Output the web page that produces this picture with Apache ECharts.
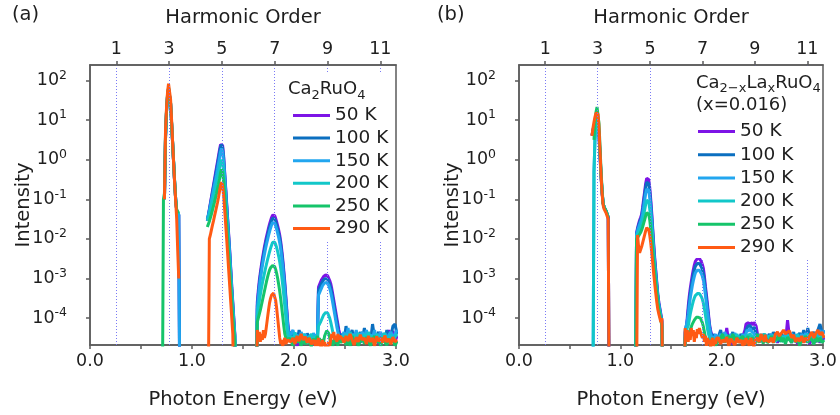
<!DOCTYPE html>
<html>
<head>
<meta charset="utf-8">
<script src="https://cdn.jsdelivr.net/npm/echarts@6/dist/echarts.min.js"></script>
<style>
  html, body { margin: 0; padding: 0; background: #fff; }
  #chart { width: 840px; height: 415px; }
</style>
</head>
<body>
<div id="chart"></div>
<script>
// Photon energy sampling grid (eV), shared by every spectrum
const photonEnergy = [
  0.71,0.72,0.73,0.74,0.75,0.76,0.77,0.78,0.79,0.80,0.81,0.82,0.83,0.84,0.85,0.86,0.87,0.88,0.89,0.90,
  1.14,1.15,1.16,1.17,1.18,1.19,1.20,1.21,1.22,1.23,1.24,1.25,1.26,1.27,1.28,1.29,1.30,1.31,1.32,1.33,1.34,1.35,1.36,1.37,1.38,1.39,1.40,1.41,1.42,1.43,1.44,
  1.63,1.64,1.65,1.66,1.67,1.68,1.69,1.70,1.71,1.72,1.73,1.74,1.75,1.76,1.77,1.78,1.79,1.80,1.81,1.82,1.83,1.84,1.85,1.86,1.87,1.88,1.89,1.90,1.91,1.92,1.93,1.94,1.95,
  1.97,1.99,2.01,2.03,2.05,2.07,2.09,2.11,2.13,2.15,2.17,2.19,2.21,
  2.22,2.23,2.24,2.25,2.26,2.27,2.28,2.29,2.30,2.31,2.32,2.33,2.34,2.35,2.36,2.37,2.38,2.39,2.40,2.41,2.42,2.43,2.44,2.45,
  2.47,2.49,2.51,2.53,2.55,2.57,2.59,2.61,2.63,2.65,2.67,2.69,2.71,2.73,2.75,2.77,2.79,2.81,2.83,2.85,2.87,2.89,2.91,2.93,2.95,2.97,2.99,3.01
];

// Fundamental (pump) photon energy in eV: harmonic n sits at n * fundamentalEV
const fundamentalEV = 0.2587;
const harmonicOrders = [1, 3, 5, 7, 9, 11];
const intensityDecades = [1e-4, 1e-3, 1e-2, 1e-1, 1, 10, 100];
const temperatures = ['50 K', '100 K', '150 K', '200 K', '250 K', '290 K'];

// log10(intensity); null = no data, -6 = below the plotted range
// (a) Ca2RuO4
const pure50K = [
  null,null,-1.0,0.5,1.2,1.6,1.78,1.75,1.4,0.9,0.4,-0.1,-0.6,-1.0,-1.3,-1.35,-1.4,-6,null,null,
  null,-1.55,-1.4,-1.25,-1.1,-0.95,-0.8,-0.65,-0.5,-0.35,-0.2,-0.05,0.1,0.25,0.38,0.43,0.36,0.1,-0.3,-0.7,-1.1,-1.5,-1.9,-2.3,-2.75,-3.2,-3.6,-4.0,-4.4,-6,null,
  -6,-3.6,-3.3,-3.05,-2.85,-2.67,-2.5,-2.35,-2.2,-2.07,-1.95,-1.84,-1.73,-1.63,-1.54,-1.46,-1.4,-1.38,-1.41,-1.48,-1.57,-1.67,-1.78,-1.9,-2.07,-2.28,-2.52,-2.8,-3.1,-3.45,-3.8,-4.15,-4.35,
  -4.5,-4.62,-4.45,-4.7,-4.55,-4.48,-4.66,-4.52,-4.6,-4.44,-4.58,-4.68,-4.5,
  -4.5,-4.4,-3.22,-3.15,-3.09,-3.03,-2.98,-2.95,-2.92,-2.91,-2.91,-2.93,-2.98,-3.05,-3.13,-3.25,-3.4,-3.55,-3.7,-3.85,-4.0,-4.15,-4.3,-4.4,
  -4.55,-4.45,-4.6,-4.4,-4.52,-4.65,-4.45,-4.58,-4.4,-4.62,-4.5,-4.35,-4.55,-4.45,-4.6,-4.42,-4.56,-4.5,-4.65,-4.45,-4.58,-4.4,-4.55,-4.3,-4.5,-4.32,-4.6,-4.45
];
const pure100K = [
  null,null,-1.0,0.5,1.2,1.6,1.8,1.76,1.42,0.92,0.42,-0.08,-0.58,-1.0,-1.3,-1.35,-1.4,-6,null,null,
  null,-1.5,-1.4,-1.27,-1.13,-0.99,-0.85,-0.7,-0.56,-0.42,-0.27,-0.12,0.03,0.18,0.32,0.38,0.3,0.05,-0.35,-0.75,-1.15,-1.55,-1.95,-2.35,-2.8,-3.25,-3.65,-4.05,-4.45,-6,null,
  -6,-3.7,-3.4,-3.14,-2.93,-2.75,-2.58,-2.43,-2.28,-2.15,-2.03,-1.92,-1.81,-1.71,-1.62,-1.54,-1.48,-1.46,-1.49,-1.56,-1.65,-1.75,-1.86,-1.98,-2.15,-2.36,-2.6,-2.88,-3.18,-3.52,-3.87,-4.2,-4.4,
  -4.35,-4.55,-4.4,-4.6,-4.3,-4.5,-4.45,-4.62,-4.38,-4.55,-4.42,-4.6,-4.48,
  -4.45,-4.5,-3.3,-3.24,-3.18,-3.12,-3.07,-3.03,-3.01,-3.0,-3.0,-3.02,-3.07,-3.14,-3.23,-3.35,-3.5,-3.65,-3.8,-3.95,-4.1,-4.25,-4.4,-4.5,
  -4.4,-4.6,-4.2,-4.55,-4.45,-4.3,-4.6,-4.4,-4.5,-4.35,-4.55,-4.25,-4.5,-4.4,-4.6,-4.15,-4.5,-4.45,-4.35,-4.55,-4.4,-4.6,-4.3,-4.5,-4.45,-4.2,-4.15,-4.4
];
const pure150K = [
  null,null,-1.0,0.55,1.22,1.62,1.8,1.76,1.42,0.92,0.42,-0.08,-0.58,-1.0,-1.28,-1.33,-1.38,-6,null,null,
  null,-1.5,-1.42,-1.3,-1.17,-1.04,-0.91,-0.78,-0.65,-0.52,-0.39,-0.25,-0.1,0.05,0.2,0.28,0.2,-0.05,-0.42,-0.82,-1.22,-1.62,-2.02,-2.42,-2.85,-3.3,-3.7,-4.1,-4.45,-6,null,
  -6,-3.8,-3.5,-3.24,-3.03,-2.85,-2.68,-2.53,-2.39,-2.26,-2.14,-2.03,-1.92,-1.82,-1.73,-1.65,-1.59,-1.57,-1.6,-1.67,-1.76,-1.86,-1.97,-2.1,-2.27,-2.48,-2.72,-3.0,-3.3,-3.62,-3.95,-4.25,-4.45,
  -4.4,-4.3,-4.52,-4.42,-4.6,-4.35,-4.5,-4.4,-4.57,-4.45,-4.6,-4.38,-4.5,
  -4.55,-4.4,-3.42,-3.36,-3.3,-3.24,-3.18,-3.14,-3.11,-3.1,-3.1,-3.12,-3.17,-3.25,-3.35,-3.47,-3.62,-3.77,-3.92,-4.07,-4.22,-4.35,-4.45,-4.55,
  -4.5,-4.35,-4.55,-4.25,-4.6,-4.4,-4.5,-4.3,-4.58,-4.45,-4.35,-4.5,-4.3,-4.55,-4.42,-4.5,-4.3,-4.6,-4.45,-4.35,-4.52,-4.38,-4.6,-4.42,-4.35,-4.5,-4.4,-4.3
];
const pure200K = [
  null,null,-1.0,0.55,1.22,1.62,1.8,1.77,1.43,0.93,0.43,-0.07,-0.57,-1.0,-1.28,-1.33,-1.38,null,null,null,
  null,-1.55,-1.48,-1.38,-1.27,-1.16,-1.05,-0.94,-0.83,-0.72,-0.6,-0.47,-0.34,-0.2,-0.07,0.0,-0.08,-0.32,-0.67,-1.05,-1.45,-1.85,-2.25,-2.65,-3.05,-3.45,-3.85,-4.2,-4.5,-6,null,
  -6,-3.95,-3.75,-3.57,-3.41,-3.26,-3.12,-2.99,-2.87,-2.75,-2.64,-2.53,-2.43,-2.33,-2.24,-2.16,-2.09,-2.05,-2.08,-2.14,-2.22,-2.32,-2.44,-2.58,-2.75,-2.95,-3.18,-3.43,-3.7,-3.98,-4.25,-4.45,-4.55,
  -4.45,-4.6,-4.36,-4.55,-4.45,-4.62,-4.4,-4.5,-4.65,-4.48,-4.4,-4.56,-4.45,
  -4.5,-4.6,-4.2,-4.15,-4.1,-4.04,-3.98,-3.92,-3.88,-3.86,-3.85,-3.87,-3.92,-4.0,-4.1,-4.22,-4.35,-4.45,-4.5,-4.6,-4.45,-4.55,-4.6,-4.5,
  -4.45,-4.55,-4.4,-4.6,-4.35,-4.5,-4.42,-4.6,-4.38,-4.5,-4.6,-4.4,-4.55,-4.35,-4.5,-4.45,-4.6,-4.4,-4.5,-4.62,-4.45,-4.38,-4.55,-4.5,-4.42,-4.6,-4.48,-4.4
];
const pure250K = [
  -6,-1.0,-0.85,0.6,1.25,1.65,1.82,1.78,1.44,0.94,0.44,-0.06,-0.56,-1.0,-1.27,-1.3,-1.35,null,null,null,
  null,-1.7,-1.65,-1.56,-1.47,-1.38,-1.28,-1.18,-1.08,-0.97,-0.86,-0.74,-0.62,-0.49,-0.33,-0.25,-0.33,-0.55,-0.9,-1.28,-1.67,-2.05,-2.45,-2.85,-3.25,-3.65,-4.0,-4.35,-4.6,-6,null,
  -6,-4.1,-4.0,-3.9,-3.8,-3.68,-3.56,-3.44,-3.32,-3.2,-3.08,-2.97,-2.87,-2.79,-2.73,-2.69,-2.67,-2.67,-2.7,-2.77,-2.87,-3.0,-3.15,-3.32,-3.52,-3.74,-3.97,-4.2,-4.4,-4.5,-4.45,-4.6,-4.5,
  -4.55,-4.7,-4.5,-4.62,-4.48,-4.7,-4.55,-4.66,-4.5,-4.6,-4.72,-4.52,-4.6,
  -4.6,-4.45,-4.6,-4.5,-4.65,-4.55,-4.5,-4.6,-4.45,-4.4,-4.32,-4.3,-4.38,-4.5,-4.65,-4.55,-4.7,-4.6,-4.5,-4.65,-4.55,-4.7,-4.5,-4.6,
  -4.6,-4.5,-4.68,-4.55,-4.7,-4.45,-4.6,-4.52,-4.7,-4.58,-4.5,-4.65,-4.48,-4.6,-4.7,-4.55,-4.45,-4.62,-4.55,-4.7,-4.5,-4.6,-4.68,-4.52,-4.62,-4.5,-4.7,-4.58
];
const pure290K = [
  null,null,-1.0,0.7,1.3,1.7,1.92,1.9,1.52,1.0,0.45,-0.1,-0.6,-1.05,-1.5,-2.3,-3.0,null,null,null,
  null,null,-6,-2.0,-1.9,-1.78,-1.66,-1.55,-1.43,-1.32,-1.2,-1.08,-0.95,-0.8,-0.65,-0.57,-0.66,-0.9,-1.25,-1.62,-2.0,-2.4,-2.8,-3.2,-3.6,-4.0,-4.4,-6,null,null,null,
  -6,-4.3,-4.5,-4.35,-4.6,-4.4,-4.55,-4.3,-4.5,-4.4,-4.2,-4.0,-3.8,-3.62,-3.5,-3.42,-3.38,-3.37,-3.42,-3.55,-3.75,-4.0,-4.25,-4.5,-4.65,-4.55,-4.7,-4.6,-4.5,-4.65,-4.7,-4.55,-4.6,
  -4.6,-4.5,-4.65,-4.45,-4.58,-4.4,-4.55,-4.47,-4.62,-4.5,-4.66,-4.55,-4.7,
  -4.55,-4.7,-4.5,-4.65,-4.6,-4.75,-4.55,-4.7,-4.6,-4.75,-4.65,-4.8,-4.6,-4.7,-4.55,-4.4,-4.5,-4.35,-4.55,-4.45,-4.6,-4.4,-4.55,-4.45,
  -4.5,-4.62,-4.45,-4.58,-4.4,-4.55,-4.68,-4.48,-4.6,-4.42,-4.55,-4.5,-4.65,-4.45,-4.6,-4.5,-4.7,-4.46,-4.58,-4.5,-4.62,-4.44,-4.6,-4.52,-4.66,-4.48,-4.6,-4.55
];

// (b) Ca(2-x)La(x)RuO4, x = 0.016
const doped50K = [
  null,0.62,0.75,0.85,0.9,0.92,0.93,0.9,0.55,0.05,-0.45,-0.85,-1.1,-1.2,-1.25,-1.3,-1.35,-1.45,-6,null,
  null,-6,-1.85,-1.72,-1.62,-1.53,-1.46,-1.38,-1.2,-1.0,-0.8,-0.6,-0.47,-0.42,-0.5,-0.7,-1.0,-1.35,-1.75,-2.15,-2.5,-2.8,-3.1,-3.4,-3.6,-3.75,-3.9,-4.05,-6,null,null,
  -6,-4.35,-4.25,-4.0,-3.7,-3.45,-3.25,-3.08,-2.92,-2.78,-2.66,-2.57,-2.52,-2.5,-2.49,-2.49,-2.52,-2.58,-2.65,-2.75,-2.95,-3.2,-3.42,-3.65,-3.9,-4.15,-4.3,-4.4,-4.45,-4.55,-4.4,-4.6,-4.5,
  -4.55,-4.6,-4.48,-4.62,-4.25,-4.6,-4.5,-4.66,-4.45,-4.58,-4.52,-4.62,-4.45,
  -4.5,-4.3,-4.15,-4.1,-4.12,-4.08,-4.15,-4.1,-4.12,-4.18,-4.1,-4.15,-4.2,-4.35,-4.5,-4.55,-4.45,-4.6,-4.5,-4.62,-4.45,-4.55,-4.6,-4.48,
  -4.55,-4.45,-4.6,-4.5,-4.62,-4.45,-4.58,-4.5,-4.6,-4.05,-4.5,-4.62,-4.48,-4.55,-4.65,-4.5,-4.58,-4.45,-4.6,-4.52,-4.65,-4.48,-4.55,-4.6,-4.5,-4.62,-4.45,-4.55
];
const doped100K = [
  null,0.6,0.74,0.86,0.92,0.95,0.96,0.92,0.58,0.08,-0.42,-0.82,-1.1,-1.2,-1.25,-1.3,-1.35,-1.45,-6,null,
  null,-6,-1.88,-1.76,-1.66,-1.58,-1.51,-1.44,-1.27,-1.08,-0.88,-0.69,-0.57,-0.52,-0.6,-0.8,-1.1,-1.45,-1.83,-2.22,-2.56,-2.86,-3.15,-3.43,-3.63,-3.78,-3.93,-4.08,-6,null,null,
  -6,-4.3,-4.3,-4.1,-3.82,-3.57,-3.37,-3.2,-3.04,-2.9,-2.78,-2.69,-2.64,-2.62,-2.62,-2.62,-2.65,-2.71,-2.78,-2.88,-3.07,-3.3,-3.52,-3.74,-3.97,-4.2,-4.35,-4.3,-4.5,-4.4,-4.55,-4.45,-4.6,
  -4.45,-4.3,-4.55,-4.4,-4.6,-4.42,-4.5,-4.35,-4.55,-4.45,-4.6,-4.4,-4.5,
  -4.55,-4.45,-4.3,-4.25,-4.2,-4.22,-4.18,-4.25,-4.2,-4.28,-4.22,-4.3,-4.4,-4.5,-4.42,-4.6,-4.45,-4.55,-4.4,-4.6,-4.5,-4.42,-4.55,-4.5,
  -4.4,-4.55,-4.35,-4.5,-4.42,-4.6,-4.38,-4.5,-4.45,-4.55,-4.4,-4.5,-4.35,-4.6,-4.45,-4.38,-4.5,-4.3,-4.55,-4.25,-4.5,-4.42,-4.35,-4.5,-4.3,-4.15,-4.35,-4.4
];
const doped150K = [
  null,null,-6,-0.3,0.5,0.88,1.0,0.95,0.62,0.12,-0.4,-0.8,-1.1,-1.2,-1.25,-1.3,-1.35,-1.45,null,null,
  null,-6,-1.9,-1.8,-1.71,-1.64,-1.57,-1.5,-1.36,-1.2,-1.03,-0.86,-0.74,-0.69,-0.77,-0.96,-1.25,-1.58,-1.95,-2.32,-2.65,-2.94,-3.22,-3.48,-3.67,-3.82,-3.97,-4.12,-6,null,null,
  -6,-4.4,-4.2,-4.15,-3.92,-3.7,-3.5,-3.34,-3.19,-3.06,-2.95,-2.86,-2.81,-2.79,-2.79,-2.79,-2.82,-2.88,-2.95,-3.05,-3.22,-3.43,-3.64,-3.85,-4.05,-4.25,-4.4,-4.35,-4.55,-4.45,-4.6,-4.4,-4.55,
  -4.5,-4.4,-4.6,-4.35,-4.5,-4.55,-4.4,-4.6,-4.38,-4.5,-4.45,-4.58,-4.4,
  -4.5,-4.6,-4.4,-4.3,-4.28,-4.32,-4.26,-4.3,-4.35,-4.3,-4.38,-4.45,-4.5,-4.42,-4.58,-4.45,-4.55,-4.4,-4.6,-4.48,-4.55,-4.4,-4.6,-4.45,
  -4.5,-4.4,-4.55,-4.45,-4.38,-4.52,-4.45,-4.6,-4.4,-4.5,-4.45,-4.38,-4.55,-4.42,-4.5,-4.6,-4.4,-4.48,-4.38,-4.5,-4.42,-4.55,-4.45,-4.38,-4.5,-4.3,-4.45,-4.3
];
const doped200K = [
  null,null,-6,-0.3,0.55,0.95,1.1,1.05,0.7,0.15,-0.38,-0.8,-1.1,-1.2,-1.25,-1.3,-1.35,-1.45,null,null,
  null,-6,-1.95,-1.88,-1.82,-1.77,-1.71,-1.64,-1.53,-1.4,-1.27,-1.13,-1.02,-0.98,-1.06,-1.24,-1.5,-1.8,-2.13,-2.47,-2.78,-3.05,-3.3,-3.55,-3.72,-3.86,-4.0,-4.15,-6,null,null,
  -6,-4.45,-4.3,-4.35,-4.2,-4.05,-3.9,-3.78,-3.67,-3.57,-3.49,-3.43,-3.39,-3.38,-3.38,-3.38,-3.41,-3.46,-3.53,-3.63,-3.77,-3.93,-4.1,-4.27,-4.4,-4.5,-4.45,-4.6,-4.5,-4.65,-4.5,-4.55,-4.65,
  -4.55,-4.45,-4.6,-4.5,-4.42,-4.6,-4.48,-4.55,-4.62,-4.4,-4.52,-4.6,-4.5,
  -4.45,-4.55,-4.5,-4.42,-4.4,-4.45,-4.38,-4.48,-4.42,-4.5,-4.45,-4.55,-4.48,-4.6,-4.5,-4.4,-4.55,-4.6,-4.45,-4.52,-4.38,-4.6,-4.5,-4.55,
  -4.45,-4.55,-4.42,-4.6,-4.48,-4.4,-4.55,-4.45,-4.6,-4.42,-4.5,-4.58,-4.45,-4.52,-4.4,-4.55,-4.62,-4.45,-4.5,-4.4,-4.55,-4.48,-4.6,-4.42,-4.5,-4.55,-4.4,-4.5
];
const doped250K = [
  null,null,null,0.5,0.95,1.2,1.33,1.28,0.9,0.3,-0.3,-0.75,-1.1,-1.2,-1.25,-1.3,-1.35,-1.45,null,null,
  null,-6,-2.0,-1.97,-1.93,-1.89,-1.84,-1.78,-1.7,-1.61,-1.52,-1.42,-1.34,-1.3,-1.37,-1.52,-1.75,-2.02,-2.32,-2.62,-2.9,-3.15,-3.38,-3.6,-3.78,-3.92,-4.05,-4.2,-6,null,null,
  -6,-4.5,-4.4,-4.55,-4.45,-4.35,-4.3,-4.22,-4.15,-4.1,-4.05,-4.0,-3.98,-3.97,-3.98,-3.97,-4.0,-4.05,-4.12,-4.22,-4.35,-4.5,-4.6,-4.5,-4.65,-4.55,-4.7,-4.6,-4.5,-4.65,-4.55,-4.7,-4.6,
  -4.6,-4.5,-4.4,-4.62,-4.5,-4.45,-4.6,-4.4,-4.55,-4.48,-4.62,-4.5,-4.45,
  -4.6,-4.5,-4.65,-4.55,-4.45,-4.6,-4.5,-4.65,-4.48,-4.6,-4.52,-4.66,-4.5,-4.4,-4.55,-4.62,-4.45,-4.58,-4.5,-4.65,-4.42,-4.6,-4.5,-4.62,
  -4.58,-4.45,-4.62,-4.5,-4.55,-4.4,-4.6,-4.5,-4.65,-4.48,-4.55,-4.62,-4.45,-4.6,-4.52,-4.7,-4.5,-4.58,-4.45,-4.62,-4.5,-4.55,-4.66,-4.48,-4.6,-4.5,-4.62,-4.55
];
const doped290K = [
  null,0.6,0.8,0.95,1.08,1.18,1.21,1.15,0.8,0.2,-0.4,-0.85,-1.15,-1.25,-1.3,-1.35,-1.4,-1.5,-6,null,
  null,null,-6,-1.9,-2.2,-2.35,-2.3,-2.2,-2.1,-2.0,-1.9,-1.8,-1.72,-1.7,-1.76,-1.9,-2.1,-2.35,-2.62,-2.9,-3.15,-3.38,-3.6,-3.78,-3.9,-4.0,-4.1,-4.0,-6,null,null,
  -6,-4.25,-4.5,-4.3,-4.6,-4.35,-4.55,-4.25,-4.45,-4.3,-4.6,-4.35,-4.5,-4.28,-4.4,-4.25,-4.35,-4.3,-4.5,-4.4,-4.6,-4.45,-4.7,-4.5,-4.65,-4.55,-4.75,-4.6,-4.5,-4.7,-4.55,-4.65,-4.5,
  -4.5,-4.65,-4.55,-4.6,-4.48,-4.7,-4.52,-4.6,-4.68,-4.5,-4.62,-4.55,-4.7,
  -4.55,-4.68,-4.5,-4.62,-4.55,-4.7,-4.58,-4.5,-4.65,-4.6,-4.72,-4.55,-4.6,-4.5,-4.45,-4.6,-4.5,-4.4,-4.55,-4.48,-4.6,-4.42,-4.55,-4.5,
  -4.6,-4.5,-4.62,-4.4,-4.35,-4.45,-4.38,-4.3,-4.4,-4.35,-4.32,-4.5,-4.42,-4.6,-4.5,-4.58,-4.45,-4.62,-4.5,-4.55,-4.45,-4.35,-4.5,-4.38,-4.3,-4.42,-4.35,-4.5
];

const pureSpectra = [pure50K, pure100K, pure150K, pure200K, pure250K, pure290K];
const dopedSpectra = [doped50K, doped100K, doped150K, doped200K, doped250K, doped290K];
const lineColors = ['#7d14e6', '#0b6fc0', '#22a6ef', '#12c7c9', '#16c46a', '#ff5a14'];

[...pureSpectra, ...dopedSpectra].forEach((s, i) => {
  if (s.length !== photonEnergy.length) throw new Error('spectrum ' + i + ' has ' + s.length + ' points, expected ' + photonEnergy.length);
});

const FONT = 'DejaVu Sans';
const TEXT = '#1e1e1e';
const AXIS = '#5b5b5b';
const yMin = 2.1e-5, yMax = 245;

function toPoints(logValues) {
  return photonEnergy.map((e, i) => [e, logValues[i] == null ? null : Math.pow(10, logValues[i])]);
}

function decadeLabel(v) {
  const exp = Math.round(Math.log10(v));
  return '{b|10}{e|' + exp + '}';
}

const nameStyle = { fontSize: 19.5, fontFamily: FONT, color: TEXT };
const tickFont = { fontSize: 17.5, fontFamily: FONT, color: TEXT };

function panelAxes(g) {
  const xBottom = {
    gridIndex: g, type: 'value', position: 'bottom', min: 0, max: 3, interval: 0.5,
    axisLine: { show: true, onZero: false, lineStyle: { color: AXIS, width: 1.5 } },
    axisTick: { show: true, inside: false, length: 4, lineStyle: { color: AXIS, width: 1.5 } },
    axisLabel: Object.assign({ customValues: [0, 1, 2, 3], formatter: v => v.toFixed(1), margin: 7 }, tickFont),
    splitLine: { show: false },
    name: 'Photon Energy (eV)', nameLocation: 'middle', nameGap: 45, nameTextStyle: nameStyle
  };
  const xTop = {
    gridIndex: g, type: 'value', position: 'top', min: 0, max: 3 / fundamentalEV, z: 3,
    axisLine: { show: true, onZero: false, lineStyle: { color: AXIS, width: 1.5 } },
    axisTick: { show: true, inside: false, length: 4, customValues: harmonicOrders, lineStyle: { color: AXIS, width: 1.5 } },
    axisLabel: Object.assign({ customValues: harmonicOrders, margin: 7 }, tickFont),
    splitLine: { show: true, lineStyle: { color: '#7a7af5', width: 1, type: [1, 2] } },
    name: 'Harmonic Order', nameLocation: 'middle', nameGap: 37, nameTextStyle: nameStyle
  };
  const y = {
    gridIndex: g, type: 'log', logBase: 10, min: yMin, max: yMax,
    axisLine: { show: true, onZero: false, lineStyle: { color: AXIS, width: 1.5 } },
    axisTick: { show: true, inside: false, length: 4, customValues: intensityDecades, lineStyle: { color: AXIS, width: 1.5 } },
    axisLabel: {
      customValues: intensityDecades, formatter: decadeLabel, margin: 23,
      rich: {
        b: { fontSize: 17.5, fontFamily: FONT, color: TEXT },
        e: { fontSize: 12.5, fontFamily: FONT, color: TEXT, padding: [0, 0, 10, 0] }
      }
    },
    splitLine: { show: false },
    name: 'Intensity', nameLocation: 'middle', nameGap: 56, nameMoveOverlap: false, nameRotate: 90, nameTextStyle: nameStyle
  };
  return { xBottom, xTop, y };
}

const axA = panelAxes(0), axB = panelAxes(1);

function buildSeries(spectra, xIdx, yIdx) {
  return spectra.map((s, i) => ({
    name: temperatures[i], type: 'line', xAxisIndex: xIdx, yAxisIndex: yIdx,
    data: toPoints(s), showSymbol: false, symbol: 'none', connectNulls: false,
    lineStyle: { color: lineColors[i], width: 3 }, itemStyle: { color: lineColors[i] },
    clip: true, silent: true, z: 2
  }));
}

const legendBase = {
  data: temperatures, orient: 'vertical', icon: 'rect', itemWidth: 37, itemHeight: 3,
  backgroundColor: '#ffffff', selectedMode: false, z: 4,
  textStyle: { fontSize: 18.5, fontFamily: FONT, color: TEXT, lineHeight: 18 }
};

const subRich = {
  t: { fontSize: 18, fontFamily: FONT, fontWeight: 'normal', color: TEXT },
  s: { fontSize: 13, fontFamily: FONT, fontWeight: 'normal', color: TEXT, padding: [12, 0, 0, 0] }
};

const option = {
  animation: false,
  backgroundColor: '#ffffff',
  textStyle: { fontFamily: FONT },
  title: [
    { text: '(a)', left: 12, top: 5, padding: 0, textStyle: { fontSize: 19.5, fontWeight: 'normal', fontFamily: FONT, color: TEXT } },
    { text: '(b)', left: 437, top: 5, padding: 0, textStyle: { fontSize: 19.5, fontWeight: 'normal', fontFamily: FONT, color: TEXT } },
    { text: '{t|Ca}{s|2}{t|RuO}{s|4}', left: 288, top: 77, padding: 0, textStyle: { fontWeight: 'normal', rich: subRich } },
    { text: '{t|Ca}{s|2−x}{t|La}{s|x}{t|RuO}{s|4}\n{t|(x=0.016)}', left: 696, top: 72, padding: 0, textStyle: { fontWeight: 'normal', rich: subRich, lineHeight: 22 } }
  ],
  grid: [
    { left: 90, top: 65, width: 306, height: 281, show: true, borderColor: AXIS, borderWidth: 1.5, containLabel: false },
    { left: 519, top: 65, width: 304, height: 280, show: true, borderColor: AXIS, borderWidth: 1.5, containLabel: false }
  ],
  xAxis: [axA.xBottom, axA.xTop, axB.xBottom, axB.xTop],
  yAxis: [axA.y, axB.y],
  legend: [
    Object.assign({}, legendBase, { left: 285, top: 74, padding: [32, 6, 2, 8], itemGap: 3.6 }),
    Object.assign({}, legendBase, { left: 693, top: 68, padding: [54, 28, 1, 5], itemGap: 4.2 })
  ],
  series: [...buildSeries(pureSpectra, 0, 0), ...buildSeries(dopedSpectra, 2, 1)]
};

const chart = echarts.init(document.getElementById('chart'), null, { renderer: 'canvas' });
chart.setOption(option);
</script>
</body>
</html>
